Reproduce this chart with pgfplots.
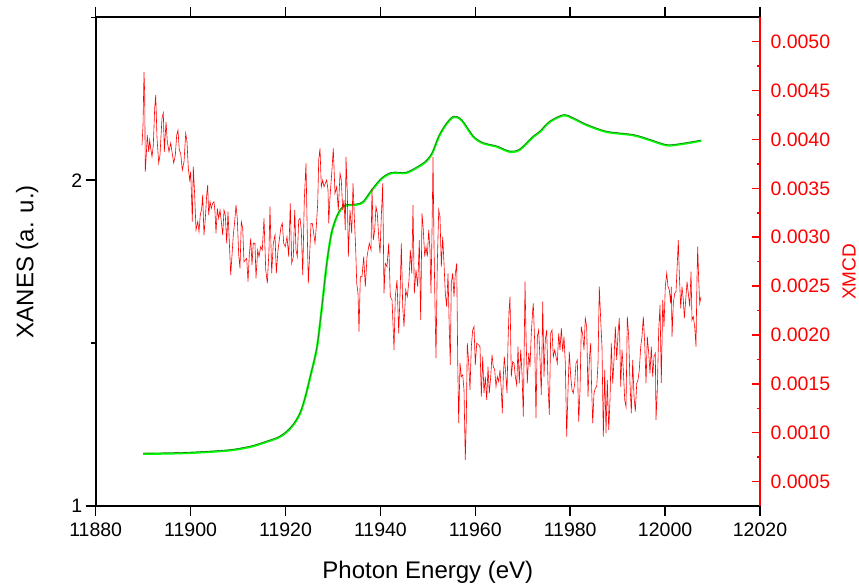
\documentclass[border=0pt]{standalone}
\usepackage{pgfplots}
\pgfplotsset{compat=1.18}
\usepackage{pgfplotstable}
\usepackage{fontspec}
\setmainfont{Liberation Sans}

% XANES (left axis), fit and data lie on top of each other
\pgfplotstableread[row sep=\\]{
E y\\
11890.0 1.160\\ 11895.0 1.161\\ 11899.9 1.163\\ 11905.0 1.167\\ 11909.0 1.172\\
11913.0 1.183\\ 11916.0 1.197\\ 11918.5 1.210\\ 11920.3 1.228\\ 11921.8 1.252\\
11923.1 1.285\\ 11924.1 1.330\\ 11925.2 1.395\\ 11926.6 1.484\\ 11927.6 1.601\\
11928.7 1.744\\ 11929.7 1.837\\ 11930.8 1.887\\ 11931.8 1.913\\ 11932.9 1.923\\
11935.0 1.925\\ 11936.4 1.933\\ 11938.2 1.969\\ 11940.3 2.005\\ 11942.4 2.022\\
11945.3 2.022\\ 11947.4 2.036\\ 11949.5 2.056\\ 11950.9 2.082\\ 11952.3 2.133\\
11953.8 2.170\\ 11955.4 2.194\\ 11957.1 2.184\\ 11959.6 2.133\\ 11961.7 2.113\\
11964.5 2.103\\ 11967.3 2.087\\ 11969.4 2.094\\ 11972.2 2.133\\ 11973.6 2.148\\
11975.7 2.179\\ 11978.6 2.199\\ 11980.7 2.189\\ 11983.5 2.169\\ 11987.7 2.148\\
11993.3 2.138\\ 11996.8 2.123\\ 12000.3 2.107\\ 12003.1 2.110\\ 12007.6 2.121\\
}\xanes

% XMCD (right axis)
\pgfplotstableread[row sep=\\]{
E v\\
11889.76 0.003943\\ 11889.97 0.004147\\ 11890.18 0.004692\\ 11890.33 0.004454\\ 11890.45 0.003670\\
11890.66 0.003840\\ 11890.87 0.004045\\ 11891.17 0.003874\\ 11891.38 0.003994\\ 11891.59 0.003912\\
11891.87 0.003823\\ 11892.14 0.003943\\ 11892.43 0.004321\\ 11892.65 0.004454\\ 11892.92 0.004014\\
11893.28 0.003759\\ 11893.55 0.003840\\ 11893.97 0.004219\\ 11894.25 0.004270\\ 11894.46 0.003874\\
11894.82 0.004181\\ 11895.09 0.003977\\ 11895.45 0.003874\\ 11895.81 0.003963\\ 11896.08 0.003874\\
11896.44 0.003759\\ 11896.78 0.003840\\ 11897.07 0.004045\\ 11897.34 0.004096\\ 11897.62 0.003892\\
11897.91 0.003858\\ 11898.25 0.003687\\ 11898.61 0.003772\\ 11898.97 0.004062\\ 11899.24 0.003977\\
11899.52 0.003705\\ 11899.81 0.003585\\ 11900.02 0.003670\\ 11900.23 0.003363\\ 11900.36 0.003159\\
11900.57 0.003721\\ 11900.86 0.003432\\ 11901.14 0.003074\\ 11901.50 0.003159\\ 11901.77 0.003056\\
11902.04 0.003227\\ 11902.34 0.003295\\ 11902.55 0.003432\\ 11902.82 0.003022\\ 11903.10 0.003193\\
11903.39 0.003432\\ 11903.60 0.003534\\ 11903.81 0.003227\\ 11904.09 0.003363\\ 11904.36 0.003295\\
11904.66 0.003347\\ 11904.93 0.003363\\ 11905.14 0.003261\\ 11905.35 0.003040\\ 11905.63 0.003295\\
11905.92 0.003193\\ 11906.20 0.003278\\ 11906.47 0.003159\\ 11906.77 0.003022\\ 11907.04 0.003278\\
11907.31 0.003227\\ 11907.61 0.002938\\ 11907.88 0.003261\\ 11908.16 0.002954\\ 11908.45 0.002613\\
11908.73 0.002818\\ 11909.00 0.003022\\ 11909.29 0.003159\\ 11909.57 0.003329\\ 11909.84 0.003193\\
11910.14 0.002818\\ 11910.41 0.002682\\ 11910.69 0.003159\\ 11910.98 0.003091\\ 11911.25 0.002749\\
11911.53 0.002767\\ 11911.82 0.002784\\ 11912.10 0.002545\\ 11912.37 0.002818\\ 11912.67 0.002989\\
11912.94 0.002716\\ 11913.21 0.002938\\ 11913.57 0.002938\\ 11913.78 0.002580\\ 11914.14 0.002869\\
11914.42 0.002801\\ 11914.77 0.002903\\ 11915.11 0.002869\\ 11915.47 0.003193\\ 11915.83 0.002665\\
11916.17 0.002529\\ 11916.52 0.002869\\ 11916.73 0.003312\\ 11917.09 0.002631\\ 11917.43 0.002938\\
11917.79 0.003023\\ 11918.06 0.002631\\ 11918.42 0.002869\\ 11918.69 0.002971\\ 11919.05 0.003107\\
11919.33 0.003142\\ 11919.62 0.002938\\ 11919.96 0.002903\\ 11920.32 0.003005\\ 11920.68 0.002801\\
11921.01 0.003347\\ 11921.31 0.002733\\ 11921.65 0.002801\\ 11921.94 0.003278\\ 11922.21 0.002869\\
11922.49 0.002801\\ 11922.78 0.003176\\ 11923.06 0.003193\\ 11923.33 0.003074\\ 11923.63 0.002613\\
11923.96 0.003380\\ 11924.32 0.003756\\ 11924.60 0.003005\\ 11924.81 0.002529\\ 11925.10 0.002835\\
11925.38 0.003142\\ 11925.65 0.003142\\ 11925.94 0.003040\\ 11926.22 0.002938\\ 11926.49 0.003107\\
11926.79 0.003347\\ 11927.00 0.003789\\ 11927.27 0.003909\\ 11927.55 0.003516\\ 11927.84 0.003585\\
11928.12 0.003516\\ 11928.39 0.003551\\ 11928.68 0.003585\\ 11928.96 0.003483\\ 11929.11 0.003142\\
11929.38 0.003414\\ 11929.74 0.003653\\ 11930.07 0.003909\\ 11930.43 0.003449\\ 11930.79 0.003516\\
11931.13 0.003278\\ 11931.49 0.003653\\ 11931.76 0.003585\\ 11932.06 0.003278\\ 11932.33 0.003380\\
11932.60 0.003074\\ 11932.75 0.003823\\ 11933.03 0.003449\\ 11933.24 0.002801\\ 11933.59 0.003278\\
11933.95 0.003040\\ 11934.23 0.003551\\ 11934.50 0.003210\\ 11934.80 0.002869\\ 11935.01 0.002529\\
11935.28 0.002426\\ 11935.49 0.002034\\ 11935.77 0.002596\\ 11936.12 0.002596\\ 11936.48 0.002801\\
11936.82 0.002494\\ 11937.18 0.002801\\ 11937.66 0.002938\\ 11938.02 0.002869\\ 11938.23 0.003500\\
11938.51 0.002971\\ 11938.80 0.003074\\ 11939.07 0.003312\\ 11939.35 0.003244\\ 11939.64 0.003005\\
11939.92 0.002835\\ 11940.19 0.003210\\ 11940.49 0.003551\\ 11940.76 0.002426\\ 11941.03 0.002733\\
11941.39 0.002698\\ 11941.75 0.002938\\ 11942.09 0.002392\\ 11942.45 0.002358\\ 11942.87 0.001847\\
11943.14 0.002392\\ 11943.50 0.002562\\ 11943.86 0.002017\\ 11944.19 0.002494\\ 11944.41 0.002938\\
11944.70 0.002289\\ 11944.97 0.002085\\ 11945.33 0.002460\\ 11945.67 0.002392\\ 11946.03 0.002562\\
11946.30 0.002869\\ 11946.60 0.002631\\ 11946.87 0.003329\\ 11947.15 0.002426\\ 11947.50 0.002665\\
11947.86 0.002494\\ 11948.20 0.002971\\ 11948.49 0.002153\\ 11948.77 0.003244\\ 11949.04 0.003074\\
11949.34 0.002801\\ 11949.61 0.002903\\ 11949.89 0.002801\\ 11950.18 0.003074\\ 11950.45 0.002869\\
11950.66 0.002426\\ 11950.88 0.003074\\ 11951.09 0.003823\\ 11951.30 0.002903\\ 11951.51 0.002289\\
11951.72 0.001762\\ 11951.99 0.002733\\ 11952.29 0.003278\\ 11952.56 0.003210\\ 11952.84 0.002698\\
11953.13 0.003005\\ 11953.40 0.002733\\ 11953.68 0.002426\\ 11953.97 0.002289\\ 11954.25 0.002631\\
11954.52 0.002051\\ 11954.73 0.001693\\ 11954.94 0.002529\\ 11955.24 0.002631\\ 11955.51 0.002392\\
11955.79 0.002631\\ 11956.08 0.002733\\ 11956.29 0.001744\\ 11956.50 0.001097\\ 11956.78 0.001711\\
11957.05 0.001574\\ 11957.35 0.001591\\ 11957.62 0.001438\\ 11957.89 0.000722\\ 11958.10 0.001131\\
11958.32 0.001915\\ 11958.61 0.001711\\ 11958.88 0.001438\\ 11959.16 0.001880\\ 11959.45 0.002051\\
11959.73 0.002085\\ 11960.00 0.001693\\ 11960.30 0.001915\\ 11960.72 0.001898\\ 11960.99 0.001880\\
11961.27 0.001369\\ 11961.56 0.001778\\ 11961.83 0.001404\\ 11962.11 0.001574\\ 11962.40 0.001335\\
11962.68 0.001676\\ 11962.95 0.001404\\ 11963.25 0.001574\\ 11963.52 0.001796\\ 11963.79 0.001676\\
11964.09 0.001642\\ 11964.36 0.001471\\ 11964.64 0.001574\\ 11964.93 0.001523\\ 11965.21 0.001642\\
11965.48 0.001438\\ 11965.69 0.001199\\ 11965.90 0.001574\\ 11966.11 0.001778\\ 11966.41 0.001608\\
11966.68 0.001404\\ 11966.89 0.001915\\ 11967.10 0.002238\\ 11967.31 0.002392\\ 11967.59 0.001574\\
11967.88 0.001727\\ 11968.16 0.001711\\ 11968.43 0.001574\\ 11968.73 0.001489\\ 11969.00 0.001880\\
11969.27 0.001506\\ 11969.57 0.001847\\ 11969.84 0.001608\\ 11970.12 0.001165\\ 11970.33 0.001983\\
11970.48 0.002545\\ 11970.69 0.001983\\ 11970.96 0.001506\\ 11971.26 0.001813\\ 11971.53 0.001676\\
11971.80 0.002017\\ 11972.10 0.002256\\ 11972.22 0.002324\\ 11972.52 0.001915\\ 11972.79 0.001148\\
11973.07 0.001983\\ 11973.36 0.002051\\ 11973.64 0.001744\\ 11973.91 0.001387\\ 11974.21 0.002341\\
11974.48 0.001574\\ 11974.75 0.001949\\ 11975.05 0.002051\\ 11975.32 0.001506\\ 11975.60 0.001182\\
11975.89 0.002017\\ 11976.17 0.002051\\ 11976.44 0.001778\\ 11976.73 0.001847\\ 11977.01 0.001778\\
11977.28 0.001711\\ 11977.58 0.002017\\ 11977.85 0.001847\\ 11978.13 0.002069\\ 11978.42 0.001829\\
11978.69 0.001983\\ 11978.97 0.001711\\ 11979.26 0.000960\\ 11979.54 0.001438\\ 11979.81 0.001829\\
11980.11 0.001574\\ 11980.38 0.001438\\ 11980.65 0.001404\\ 11980.95 0.001506\\ 11981.22 0.001711\\
11981.50 0.001744\\ 11981.79 0.001114\\ 11982.07 0.001438\\ 11982.34 0.002085\\ 11982.64 0.002000\\
11982.91 0.001847\\ 11983.18 0.002171\\ 11983.48 0.002085\\ 11983.75 0.001369\\ 11984.03 0.001744\\
11984.32 0.001915\\ 11984.45 0.001574\\ 11984.74 0.001097\\ 11985.02 0.001404\\ 11985.29 0.001455\\
11985.59 0.001471\\ 11985.86 0.001711\\ 11986.13 0.002494\\ 11986.43 0.002153\\ 11986.70 0.001880\\
11986.98 0.000960\\ 11987.27 0.001642\\ 11987.55 0.000995\\ 11987.82 0.001540\\ 11988.12 0.001029\\
11988.39 0.001335\\ 11988.66 0.001915\\ 11988.96 0.001506\\ 11989.23 0.001744\\ 11989.51 0.002085\\
11989.80 0.001744\\ 11990.08 0.002017\\ 11990.35 0.002171\\ 11990.64 0.001471\\ 11990.92 0.001847\\
11991.19 0.001642\\ 11991.49 0.001335\\ 11991.76 0.001267\\ 11992.04 0.002187\\ 11992.33 0.001983\\
11992.60 0.001506\\ 11992.88 0.001199\\ 11993.17 0.001744\\ 11993.45 0.001369\\ 11993.72 0.001216\\
11994.02 0.001506\\ 11994.29 0.001540\\ 11994.56 0.001642\\ 11994.86 0.001880\\ 11995.13 0.001983\\
11995.41 0.002187\\ 11995.70 0.001915\\ 11995.98 0.001506\\ 11996.25 0.001983\\ 11996.55 0.001813\\
11996.82 0.001608\\ 11997.09 0.001880\\ 11997.39 0.001574\\ 11997.66 0.001778\\ 11997.94 0.001813\\
11998.08 0.001131\\ 11998.36 0.001438\\ 11998.65 0.002051\\ 11998.93 0.002307\\ 11999.20 0.001506\\
11999.50 0.002358\\ 11999.77 0.002085\\ 12000.04 0.002494\\ 12000.34 0.002631\\ 12000.61 0.002494\\
12000.89 0.002460\\ 12001.18 0.002324\\ 12001.31 0.002494\\ 12001.46 0.001983\\ 12001.73 0.002324\\
12002.02 0.002426\\ 12002.30 0.002443\\ 12002.57 0.002733\\ 12002.78 0.002971\\ 12002.99 0.002631\\
12003.29 0.002273\\ 12003.56 0.002494\\ 12003.84 0.002358\\ 12004.05 0.002171\\ 12004.34 0.002358\\
12004.62 0.002545\\ 12004.89 0.002426\\ 12005.19 0.002289\\ 12005.46 0.002647\\ 12005.67 0.002153\\
12005.94 0.002187\\ 12006.24 0.002085\\ 12006.51 0.001880\\ 12006.72 0.002580\\ 12006.87 0.002903\\
12007.08 0.002562\\ 12007.29 0.002324\\ 12007.57 0.002392\\
}\xmcd

\begin{document}
\begin{tikzpicture}
\pgfplotsset{
  every axis/.append style={
    scale only axis, width=664.3pt, height=488.7pt,
    xmin=11880, xmax=12020,
    tick label style={font=\fontsize{19.5}{22}\selectfont},
    /pgf/number format/assume math mode=true,
    /pgf/number format/1000 sep={},
    scaled ticks=false,
  },
}
\begin{axis}[
    axis line style={line width=1.8pt},
    every tick/.style={black, line width=1.5pt},
    tick align=outside,
    major tick length=10pt, minor tick length=5pt,
    xtick={11880,11900,...,12020}, minor x tick num=1,
    xtick pos=both, xticklabel pos=bottom,
    xticklabel style={yshift=-3pt},
    ymin=1, ymax=2.5,
    ytick={1,2}, minor ytick={1.5,2.5},
    ytick pos=left,
    xlabel={Photon Energy (eV)},
    ylabel={XANES (a. u.)},
    every axis x label/.style={at={(axis description cs:0.5,-0.135)}, anchor=center,
      font=\fontsize{24}{28}\selectfont},
    every axis y label/.style={at={(axis description cs:-0.103,0.5)}, rotate=90, anchor=center,
      font=\fontsize{24}{28}\selectfont},
  ]
  \coordinate (sw) at (rel axis cs:0,0);
  \coordinate (ne) at (rel axis cs:1,1);
  \addplot[green, line width=2.2pt, smooth, tension=0.5] table[x=E, y=y] {\xanes};
  \addplot[black!75, line width=0.4pt, smooth, tension=0.5, yshift=0.7pt] table[x=E, y=y] {\xanes};
\end{axis}
\begin{axis}[
    axis x line=none, axis y line*=right,
    y axis line style={red, line width=2.2pt},
    every tick/.style={red, line width=1.5pt},
    tick align=inside,
    major tick length=8.3pt, minor tick length=3.3pt,
    ymin=0.00025, ymax=0.00525,
    ytick={0.0005,0.001,0.0015,0.002,0.0025,0.003,0.0035,0.004,0.0045,0.005},
    minor y tick num=1,
    yticklabel style={red, xshift=7pt, /pgf/number format/.cd, fixed, fixed zerofill, precision=4},
    ylabel={XMCD},
    every axis y label/.style={at={(axis description cs:1.134,0.479)}, rotate=90, anchor=center,
      red, font=\fontsize{19}{22}\selectfont},
  ]
  \addplot[red, line width=0.6pt] table[x=E, y=v] {\xmcd};
\end{axis}
\pgfresetboundingbox
\path[use as bounding box] ([shift={(-95.7pt,-78pt)}]sw) rectangle ([shift={(99pt,17.3pt)}]ne);
\end{tikzpicture}
\end{document}
